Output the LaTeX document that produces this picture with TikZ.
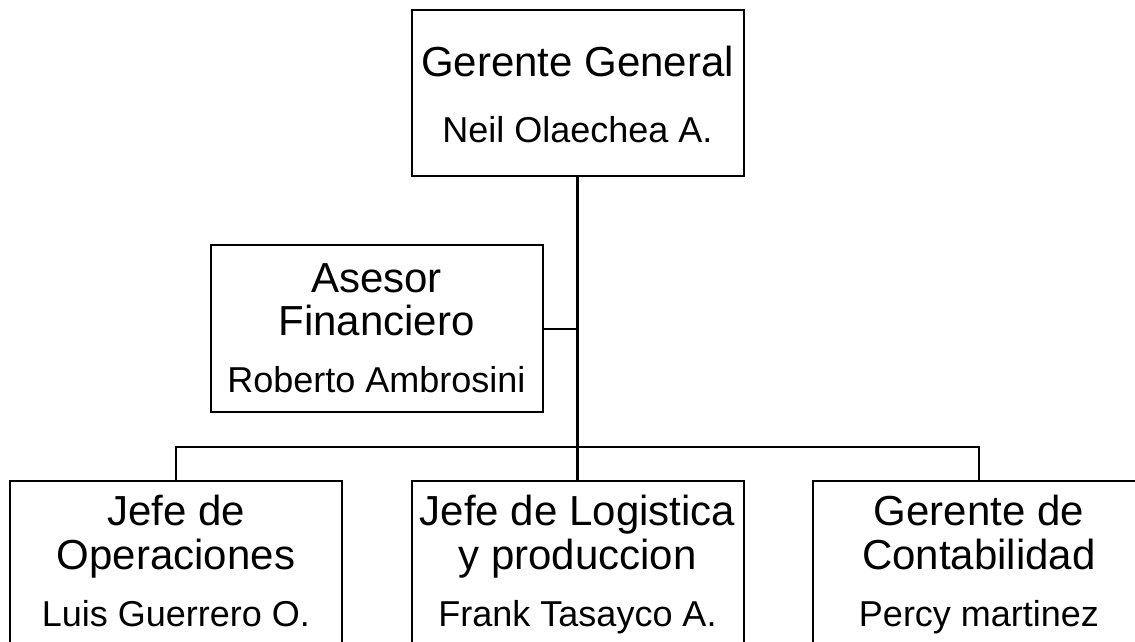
\documentclass[tikz,border=0pt]{standalone}
\usepackage{fontspec}
\setmainfont{Liberation Sans}
\begin{document}
\begin{tikzpicture}[x=1pt,y=-1pt,
  orgbox/.style={draw, line width=2pt, minimum width=332pt, minimum height=166pt, inner sep=0pt},
  ttl/.style={anchor=base, inner sep=0pt, font=\fontsize{42}{42}\selectfont},
  nm/.style={anchor=base, inner sep=0pt, font=\fontsize{36}{36}\selectfont},
  conn/.style={line width=2pt},
  trunk/.style={line width=2.5pt}]
\useasboundingbox (0,0) rectangle (1135,642);
\clip (0,0) rectangle (1135,642);
\fill[white] (0,0) rectangle (1135,642);
% boxes
\node[orgbox] (gg) at (577.5,93) {};
\node[orgbox, minimum height=167pt] (af) at (376.5,328.5) {};
\node[orgbox] (jo) at (176,564) {};
\node[orgbox] (jl) at (577.5,564) {};
\node[orgbox] (gc) at (979,564) {};
% texts
\node[ttl] at (577.5,77) {Gerente General};
\node[nm]  at (577.5,142) {Neil Olaechea A.};
\node[ttl] at (376.5,292) {Asesor};
\node[ttl] at (376.5,335) {Financiero};
\node[nm]  at (376.5,392) {Roberto Ambrosini};
\node[ttl] at (176,525) {Jefe de};
\node[ttl] at (176,569) {Operaciones};
\node[nm]  at (176,626) {Luis Guerrero O.};
\node[ttl] at (577.5,525) {Jefe de Logistica};
\node[ttl] at (577.5,569) {y produccion};
\node[nm]  at (577.5,626) {Frank Tasayco A.};
\node[ttl] at (979,525) {Gerente de};
\node[ttl] at (979,569) {Contabilidad};
\node[nm]  at (979,626) {Percy martinez};
% connectors
\coordinate (bus) at (577.5,447);
\draw[trunk] (gg.south) -- (jl.north);
\draw[conn] (af.east) -- (af.east -| gg.south);
\draw[conn] (jo.north) -- (jo.north |- bus) -- (gc.north |- bus) -- (gc.north);
\end{tikzpicture}
\end{document}
